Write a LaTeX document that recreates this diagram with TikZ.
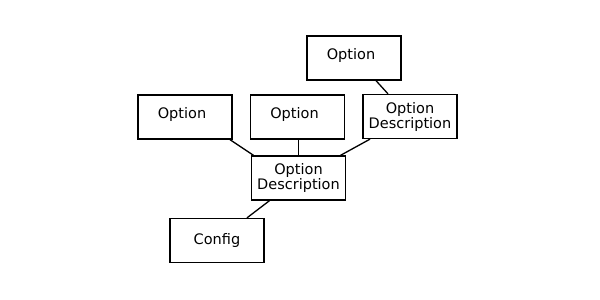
\documentclass[tikz,border=0pt]{standalone}
\usepackage{fontspec}
\setmainfont{DejaVu Sans}
\newcommand{\optlabel}{\hspace*{-6pt}\raisebox{3pt}[\height][\depth]{Option}}
\begin{document}
\begin{tikzpicture}[x=1pt,y=-1pt,
  box/.style={draw,line width=1.3pt,minimum width=94pt,minimum height=44pt,inner sep=0pt,align=center,font=\fontsize{14.5}{15}\selectfont},
  link/.style={line width=1.3pt}]
\useasboundingbox (0,0) rectangle (600,300);
\node[box] (top) at (354,58) {\optlabel};
\node[box] (left) at (185,117) {\optlabel};
\node[box] (mid) at (297.5,117) {\optlabel};
\node[box] (rod) at (410,116.5) {Option\\Description};
\node[box] (cod) at (298.5,178) {Option\\Description};
\node[box] (cfg) at (217,240.5) {Config};
\draw[link] ([xshift=22pt]top.south) -- ([xshift=-22pt]rod.north);
\draw[link] ([xshift=-45pt]cod.north) -- ([xshift=45pt]left.south);
\draw[link] (cod.north) -- (cod.north |- mid.south);
\draw[link] ([xshift=42pt]cod.north) -- ([xshift=-40pt]rod.south);
\draw[link] ([xshift=-29pt]cod.south) -- ([xshift=30pt]cfg.north);
\end{tikzpicture}
\end{document}
